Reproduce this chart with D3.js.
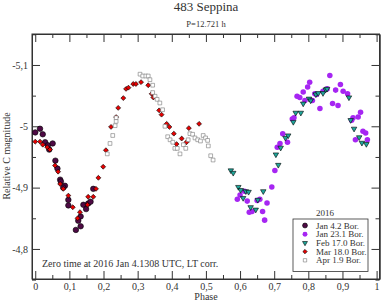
<!DOCTYPE html>
<html>
<head>
<meta charset="utf-8">
<script src="https://cdn.jsdelivr.net/npm/d3@7"></script>
<style>
  body { margin: 0; background: #fff; }
  svg text { font-family: "Liberation Serif", "Times New Roman", serif; fill: #333; }
  .axis path, .axis line { stroke: #333; }
  .axis text { font-size: 10px; }
</style>
</head>
<body>
<svg></svg>
<script>
// phase / magnitude pairs
const jan4Phase = [0.000, 0.014, 0.022, 0.029, 0.037, 0.041, 0.051, 0.059, 0.065, 0.073, 0.075, 0.087, 0.082, 0.097, 0.097, 0.119, 0.126, 0.133, 0.133, 0.141, 0.149, 0.155, 0.162, 0.170];
const jan4Mag = [-4.990, -4.996, -4.987, -4.974, -4.969, -4.962, -4.972, -4.944, -4.931, -4.913, -4.910, -4.903, -4.900, -4.880, -4.871, -4.831, -4.846, -4.853, -4.837, -4.872, -4.865, -4.874, -4.877, -4.898];

const jan23Phase = [0.592, 0.600, 0.613, 0.621, 0.627, 0.635, 0.650, 0.658, 0.666, 0.672, 0.679, 0.693, 0.702, 0.709, 0.717, 0.725, 0.739, 0.753, 0.758, 0.767, 0.775, 0.785, 0.790, 0.798, 0.804, 0.812, 0.819, 0.824, 0.834, 0.843, 0.855, 0.863, 0.871, 0.880, 0.887, 0.894, 0.902, 0.915, 0.927, 0.931, 0.946, 0.953, 0.960, 0.968, 0.938, 0.973];
const jan23Mag = [-4.881, -4.888, -4.894, -4.878, -4.860, -4.861, -4.879, -4.881, -4.861, -4.847, -4.875, -4.901, -4.928, -4.966, -4.972, -4.988, -4.974, -5.012, -5.014, -5.049, -5.047, -5.056, -5.042, -5.064, -5.072, -5.042, -5.053, -5.052, -5.029, -5.057, -5.061, -5.083, -5.037, -5.059, -5.034, -5.068, -5.057, -5.053, -5.010, -5.014, -5.015, -5.023, -4.992, -4.989, -4.978, -4.978];

const feb17Phase = [0.573, 0.580, 0.595, 0.602, 0.609, 0.617, 0.625, 0.631, 0.646, 0.652, 0.668, 0.705, 0.712, 0.719, 0.733, 0.741, 0.756, 0.763, 0.778, 0.785, 0.802, 0.807, 0.822, 0.829, 0.843, 0.851, 0.855, 0.919, 0.924, 0.934, 0.949, 0.957, 0.970];
const feb17Mag = [-4.928, -4.924, -4.901, -4.896, -4.883, -4.894, -4.893, -4.868, -4.864, -4.880, -4.894, -4.954, -4.937, -4.965, -4.981, -4.985, -5.007, -5.022, -5.022, -5.037, -5.045, -5.042, -5.052, -5.054, -5.054, -5.060, -5.061, -5.047, -5.010, -4.996, -4.982, -4.973, -4.971];

const mar18Phase = [0.000, 0.014, 0.022, 0.035, 0.043, 0.058, 0.067, 0.073, 0.082, 0.097, 0.110, 0.124, 0.131, 0.153, 0.155, 0.170, 0.178, 0.185, 0.199, 0.207, 0.222, 0.237, 0.243, 0.258, 0.266, 0.273, 0.287, 0.295, 0.310, 0.331, 0.341, 0.346, 0.363, 0.370, 0.385, 0.393, 0.406, 0.414, 0.429, 0.443, 0.450, 0.480];
const mar18Mag = [-4.975, -4.975, -4.970, -4.966, -4.962, -4.936, -4.926, -4.906, -4.898, -4.887, -4.868, -4.850, -4.860, -4.872, -4.885, -4.885, -4.898, -4.916, -4.934, -4.961, -4.999, -5.015, -5.030, -5.046, -5.061, -5.063, -5.069, -5.069, -5.072, -5.067, -5.053, -5.047, -5.026, -5.019, -5.004, -4.999, -4.988, -4.971, -4.980, -4.974, -4.997, -5.004];

const apr1Phase = [0.211, 0.219, 0.227, 0.234, 0.237, 0.237, 0.307, 0.315, 0.324, 0.331, 0.336, 0.344, 0.344, 0.351, 0.357, 0.365, 0.373, 0.380, 0.388, 0.395, 0.403, 0.409, 0.416, 0.424, 0.434, 0.441, 0.448, 0.453, 0.461, 0.468, 0.476, 0.484, 0.492, 0.499, 0.505, 0.507, 0.514, 0.521];
const apr1Mag = [-4.955, -4.972, -4.985, -5.001, -5.008, -5.014, -5.085, -5.082, -5.082, -5.082, -5.076, -5.067, -5.055, -5.049, -5.044, -5.038, -5.027, -5.000, -4.983, -4.978, -4.974, -4.964, -4.964, -4.955, -4.970, -4.964, -4.978, -4.988, -4.987, -4.981, -4.978, -4.976, -4.985, -4.981, -4.977, -4.968, -4.952, -4.945];

const seriesNames = ["Jan 4.2 Bor.", "Jan 23.1 Bor.", "Feb 17.0 Bor.", "Mar 18.0 Bor.", "Apr 1.9 Bor."];
const xTicks = [0, 0.1, 0.2, 0.3, 0.4, 0.5, 0.6, 0.7, 0.8, 0.9, 1];
const yTicks = [-5.1, -5, -4.9, -4.8];

let svg = d3.select("svg").attr("width", 382).attr("height", 302),
    margin = {top: 34, right: 2.5, bottom: 23, left: 32},
    width = 382 - margin.left - margin.right,
    height = 302 - margin.top - margin.bottom,
    g = svg.append("g").attr("transform", "translate(" + margin.left + "," + margin.top + ")");

let locale = d3.formatLocale({decimal: ",", thousands: ".", grouping: [3], currency: ["", ""], minus: "-"});
let fmt = locale.format("~g");

let x = d3.scaleLinear().domain([-0.0095, 1.0085]).range([0, width]),
    y = d3.scaleLinear().domain([-5.1505, -4.751]).range([0, height]);

// diamond = square turned by 45 degrees
let series = [
    {name: seriesNames[0], phase: jan4Phase, mag: jan4Mag, sym: d3.symbolCircle, size: 24, fill: "#4e0a44", stroke: "#000", rot: 0},
    {name: seriesNames[1], phase: jan23Phase, mag: jan23Mag, sym: d3.symbolCircle, size: 24, fill: "#a626f2", stroke: "none", rot: 0},
    {name: seriesNames[2], phase: feb17Phase, mag: feb17Mag, sym: d3.symbolTriangle, size: 13, fill: "#1fa89c", stroke: "#000", rot: 180},
    {name: seriesNames[3], phase: mar18Phase, mag: mar18Mag, sym: d3.symbolSquare, size: 12, fill: "#e80000", stroke: "#000", rot: 45},
    {name: seriesNames[4], phase: apr1Phase, mag: apr1Mag, sym: d3.symbolSquare, size: 14, fill: "#fff", stroke: "#777", rot: 0}
];

// minor ticks
function minor(axis, scale, vals) {
    return axis(scale).tickValues(vals).tickSizeInner(-4).tickSizeOuter(0).tickFormat("");
}
let xMinor = d3.range(0.05, 1, 0.1), yMinor = [-5.15, -5.05, -4.95, -4.85, -4.75];

g.append("g").attr("class", "axis").attr("transform", "translate(0," + height + ")")
    .call(minor(d3.axisBottom, x, xMinor));
g.append("g").attr("class", "axis").call(minor(d3.axisTop, x, xMinor));
g.append("g").attr("class", "axis").call(minor(d3.axisLeft, y, yMinor));
g.append("g").attr("class", "axis").attr("transform", "translate(" + width + ",0)")
    .call(minor(d3.axisRight, y, yMinor));

// major ticks
g.append("g").attr("class", "axis").attr("transform", "translate(0," + height + ")")
    .call(d3.axisBottom(x).tickValues(xTicks).tickSizeInner(-8).tickSizeOuter(0).tickPadding(4).tickFormat(fmt));
g.append("g").attr("class", "axis")
    .call(d3.axisTop(x).tickValues(xTicks).tickSizeInner(-8).tickSizeOuter(0).tickFormat(""));
g.append("g").attr("class", "axis")
    .call(d3.axisLeft(y).tickValues(yTicks).tickSizeInner(-8).tickSizeOuter(0).tickPadding(4).tickFormat(fmt));
g.append("g").attr("class", "axis").attr("transform", "translate(" + width + ",0)")
    .call(d3.axisRight(y).tickValues(yTicks).tickSizeInner(-8).tickSizeOuter(0).tickFormat(""));

// frame
g.append("rect").attr("width", width).attr("height", height)
    .attr("fill", "none").attr("stroke", "#333");

// points
series.forEach(function (s) {
    let sym = d3.symbol().type(s.sym).size(s.size);
    g.append("g").selectAll("path")
        .data(s.phase.map(function (p, i) { return [p, s.mag[i]]; }))
        .enter().append("path")
        .attr("d", sym)
        .attr("transform", function (d) { return "translate(" + x(d[0]) + "," + y(d[1]) + ") rotate(" + s.rot + ")"; })
        .attr("fill", s.fill)
        .attr("stroke", s.stroke)
        .attr("stroke-width", 0.6);
});

// titles
svg.append("text").text("483 Seppina")
    .attr("x", 206).attr("y", 11).attr("text-anchor", "middle")
    .style("font-size", "13px");
svg.append("text").text("P=12.721 h")
    .attr("x", 206).attr("y", 27).attr("text-anchor", "middle")
    .style("font-size", "8.5px");
svg.append("text").text("Phase")
    .attr("x", 206).attr("y", 300).attr("text-anchor", "middle")
    .style("font-size", "10px");
svg.append("text").text("Relative C magnitude")
    .attr("transform", "translate(10,156) rotate(-90)")
    .attr("text-anchor", "middle")
    .style("font-size", "10px");

g.append("text").text("Zero time at 2016 Jan 4.1308 UTC, LT corr.")
    .attr("x", 10).attr("y", 233)
    .style("font-size", "10px");

// legend
let lg = svg.append("g").attr("transform", "translate(293,219)");
lg.append("text").text("2016").attr("x", 32).attr("y", -3)
    .attr("text-anchor", "middle").style("font-size", "9px");
lg.append("rect").attr("width", 75).attr("height", 52.5)
    .attr("fill", "#fff").attr("stroke", "#333").attr("stroke-width", 0.8);
series.forEach(function (s, i) {
    let row = lg.append("g").attr("transform", "translate(12," + (6.5 + i * 8.7) + ")");
    row.append("path")
        .attr("d", d3.symbol().type(s.sym).size(s.size * 0.8))
        .attr("transform", "rotate(" + s.rot + ")")
        .attr("fill", s.fill).attr("stroke", s.stroke).attr("stroke-width", 0.6);
    row.append("text").text(s.name).attr("x", 11).attr("y", 3)
        .style("font-size", "9px");
});
</script>
</body>
</html>
